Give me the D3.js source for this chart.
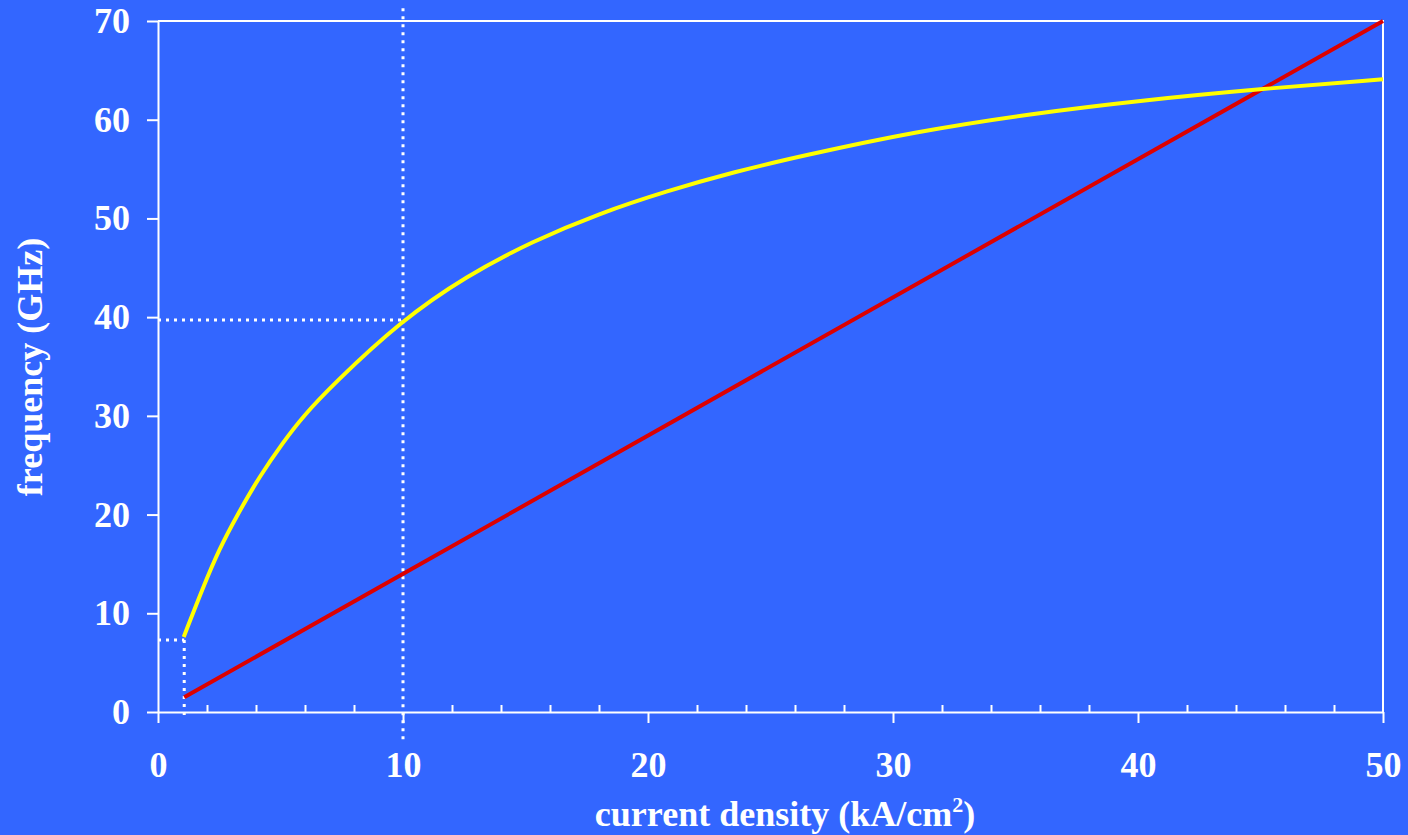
<!DOCTYPE html>
<html>
<head>
<meta charset="utf-8">
<script src="https://cdn.jsdelivr.net/npm/d3@7"></script>
<style>
  body { margin: 0; background: #3366ff; }
  svg { display: block; }
  text { font-family: "Liberation Serif", "Times New Roman", serif; font-weight: bold; fill: #fff; }
</style>
</head>
<body>
<div id="chart"></div>
<script>
let width = 1408;
let height = 835;

// yellow curve (kA/cm2, GHz)
var curveJ = [1.05, 1.85, 2.5, 3.2, 4.15, 5.1, 5.9, 7.15, 9.9, 12.6, 15.3, 18, 20.8, 23.5, 26.2, 30.9, 35.6, 40.3, 44.9, 50];
var curveF = [7.6, 12.7, 16.5, 19.8, 23.9, 27.3, 29.9, 33.2, 39.6, 44.2, 47.7, 50.5, 52.8, 54.7, 56.3, 58.8, 60.6, 62.0, 63.1, 64.1];

// red straight line
var lineJ = [1.07, 50];
var lineF = [1.5, 70];

// dotted guide lines [x1, y1, x2, y2] in data units
var guides = [
  [10, 71.3, 10, -3.2],
  [0, 39.7, 10, 39.7],
  [0, 7.3, 1.07, 7.3],
  [1.07, 7.3, 1.07, -0.8]
];

var xTicks = [0, 10, 20, 30, 40, 50];
var xMinor = d3.range(2, 50, 2).filter(d => d % 10 !== 0);
var yTicks = [0, 10, 20, 30, 40, 50, 60, 70];

let svg = d3.select("#chart").append("svg")
  .attr("width", width)
  .attr("height", height);

var x = d3.scaleLinear().domain([0, 50]).range([158, 1383]);
var y = d3.scaleLinear().domain([0, 70]).range([712, 21]);

// frame top + right
svg.append("path")
  .attr("d", "M" + x(0) + "," + y(70) + "H" + x(50) + "V" + y(0))
  .attr("fill", "none")
  .attr("stroke", "#fff")
  .attr("stroke-width", 2);

// minor x ticks (inside)
svg.append("g")
  .attr("transform", "translate(0," + y(0) + ")")
  .call(d3.axisBottom(x).tickValues(xMinor).tickSize(-7).tickFormat(""))
  .call(g => g.select(".domain").remove())
  .call(g => g.selectAll("line").attr("stroke", "#fff").attr("stroke-width", 2));

// x axis
var xAxis = svg.append("g")
  .attr("transform", "translate(0," + y(0) + ")")
  .call(d3.axisBottom(x).tickValues(xTicks).tickSize(11).tickSizeOuter(0).tickPadding(30));
xAxis.select(".domain").attr("stroke", "#fff").attr("stroke-width", 2);
xAxis.selectAll("line").attr("stroke", "#fff").attr("stroke-width", 2);
xAxis.selectAll("text")
  .attr("fill", "#fff")
  .style("font-size", "36px")
  .attr("dy", "0.66em");

// y axis
var yAxis = svg.append("g")
  .attr("transform", "translate(" + x(0) + ",0)")
  .call(d3.axisLeft(y).tickValues(yTicks).tickSize(11).tickSizeOuter(0).tickPadding(17));
yAxis.select(".domain").attr("stroke", "#fff").attr("stroke-width", 2);
yAxis.selectAll("line").attr("stroke", "#fff").attr("stroke-width", 2);
yAxis.selectAll("text")
  .attr("fill", "#fff")
  .style("font-size", "36px");

// guides
svg.append("g")
  .selectAll("line")
  .data(guides)
  .enter()
  .append("line")
  .attr("x1", d => x(d[0]))
  .attr("y1", d => y(d[1]))
  .attr("x2", d => x(d[2]))
  .attr("y2", d => y(d[3]))
  .attr("stroke", "#fff")
  .attr("stroke-width", 3)
  .attr("stroke-dasharray", "3,5");

// red line
svg.append("path")
  .datum(lineJ.map((j, i) => [j, lineF[i]]))
  .attr("d", d3.line().x(d => x(d[0])).y(d => y(d[1])))
  .attr("fill", "none")
  .attr("stroke", "#dd0000")
  .attr("stroke-width", 4);

// yellow curve
svg.append("path")
  .datum(curveJ.map((j, i) => [j, curveF[i]]))
  .attr("d", d3.line().curve(d3.curveBasis).x(d => x(d[0])).y(d => y(d[1])))
  .attr("fill", "none")
  .attr("stroke", "#ffff00")
  .attr("stroke-width", 4);

// axis titles
var xt = svg.append("text")
  .attr("x", 785)
  .attr("y", 826)
  .attr("text-anchor", "middle")
  .style("font-size", "36px");
xt.append("tspan").text("current density (kA/cm");
xt.append("tspan").attr("dy", -14).style("font-size", "22px").text("2");
xt.append("tspan").attr("dy", 14).text(")");

svg.append("text")
  .attr("transform", "translate(42,367) rotate(-90)")
  .attr("text-anchor", "middle")
  .style("font-size", "36px")
  .text("frequency (GHz)");
</script>
</body>
</html>
